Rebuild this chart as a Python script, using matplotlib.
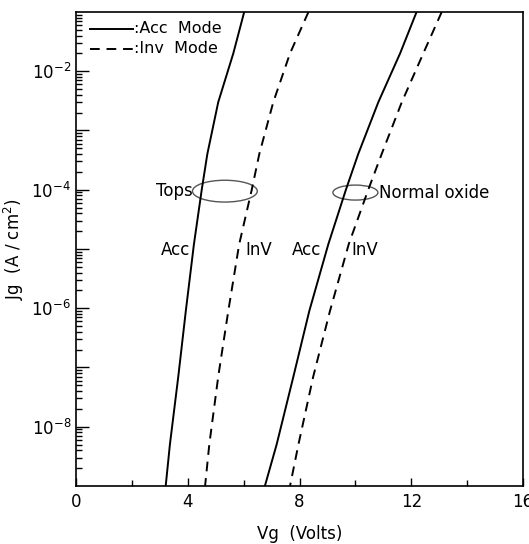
import numpy as np
import matplotlib
matplotlib.use("Agg")
import matplotlib.pyplot as plt
from matplotlib.patches import Ellipse
from matplotlib.ticker import LogLocator, NullFormatter, FixedLocator

plt.rcParams["font.family"] = "DejaVu Sans"
plt.rcParams["mathtext.fontset"] = "dejavusans"

# Jg (A/cm^2) levels at which the curves were read
jg = [1e-1, 2e-2, 3e-3, 4e-4, 1e-4, 1.2e-5, 9e-7, 7e-8, 5e-9, 1e-9]
# Vg (Volts) read for each curve at those levels
vg_tops_acc = [6.02, 5.63, 5.09, 4.70, 4.50, 4.22, 3.93, 3.66, 3.36, 3.21]
vg_tops_inv = [8.32, 7.66, 7.06, 6.56, 6.29, 5.84, 5.45, 5.09, 4.77, 4.62]
vg_norm_acc = [12.19, 11.60, 10.82, 10.10, 9.66, 9.03, 8.35, 7.78, 7.18, 6.76]
vg_norm_inv = [13.09, 12.43, 11.66, 10.94, 10.46, 9.76, 9.09, 8.49, 7.96, 7.66]

xticks = [0, 4, 8, 12, 16]
xminor = [2, 6, 10, 14]
ydecades = [1e-8, 1e-7, 1e-6, 1e-5, 1e-4, 1e-3, 1e-2]
ylabeled = [1e-8, 1e-6, 1e-4, 1e-2]

fig = plt.figure(figsize=(5.29, 5.44), dpi=100)
ax = fig.add_axes([0.1437, 0.1066, 0.845, 0.8714])

DASH = (0, (5, 3.5))
ax.plot(vg_tops_acc, jg, color="black", lw=1.4)
ax.plot(vg_tops_inv, jg, color="black", lw=1.4, linestyle=DASH)
ax.plot(vg_norm_acc, jg, color="black", lw=1.4)
ax.plot(vg_norm_inv, jg, color="black", lw=1.4, linestyle=DASH)

ax.set_yscale("log")
ax.set_xlim(0, 16)
ax.set_ylim(1e-9, 1e-1)

ax.xaxis.set_major_locator(FixedLocator(xticks))
ax.xaxis.set_minor_locator(FixedLocator(xminor))
ax.set_xticklabels([str(v) for v in xticks])

ax.yaxis.set_minor_locator(LogLocator(base=10, subs=np.arange(2, 10), numticks=20))
ax.yaxis.set_minor_formatter(NullFormatter())
ax.set_yticks(ydecades)
ax.set_yticklabels(["$10^{%d}$" % int(round(np.log10(v))) if v in ylabeled else ""
                    for v in ydecades])

ax.tick_params(axis="both", which="both", direction="in", labelsize=12, width=1)
ax.tick_params(axis="y", which="major", length=9)
ax.tick_params(axis="y", which="minor", length=4)
ax.tick_params(axis="x", which="major", length=6, pad=5)
ax.tick_params(axis="x", which="minor", length=4)
for s in ax.spines.values():
    s.set_linewidth(1.2)

ax.set_xlabel("Vg  (Volts)", fontsize=12, labelpad=10)
ax.set_ylabel("Jg  (A / cm$^2$)", fontsize=12, labelpad=4)

# legend drawn by hand
ax.plot([0.032, 0.128], [0.965, 0.965], transform=ax.transAxes, color="black", lw=1.4)
ax.text(0.13, 0.965, ":Acc  Mode", transform=ax.transAxes, fontsize=11.5, va="center")
ax.plot([0.032, 0.128], [0.922, 0.922], transform=ax.transAxes, color="black", lw=1.4,
        linestyle=DASH)
ax.text(0.13, 0.922, ":Inv  Mode", transform=ax.transAxes, fontsize=11.5, va="center")

# ellipses marking the curve pairs
ax.add_patch(Ellipse((0.333, 0.622), 0.145, 0.046, transform=ax.transAxes,
                     fill=False, ec="#555555", lw=1))
ax.add_patch(Ellipse((0.625, 0.619), 0.1007, 0.0316, transform=ax.transAxes,
                     fill=False, ec="#555555", lw=1))

ax.text(0.262, 0.623, "Tops", transform=ax.transAxes, fontsize=12, ha="right", va="center")
ax.text(0.678, 0.619, "Normal oxide", transform=ax.transAxes, fontsize=12, ha="left", va="center")
ax.text(0.255, 0.497, "Acc", transform=ax.transAxes, fontsize=12, ha="right", va="center")
ax.text(0.378, 0.497, "InV", transform=ax.transAxes, fontsize=12, ha="left", va="center")
ax.text(0.548, 0.497, "Acc", transform=ax.transAxes, fontsize=12, ha="right", va="center")
ax.text(0.617, 0.497, "InV", transform=ax.transAxes, fontsize=12, ha="left", va="center")

fig.savefig("out.png", dpi=100, facecolor="white")
